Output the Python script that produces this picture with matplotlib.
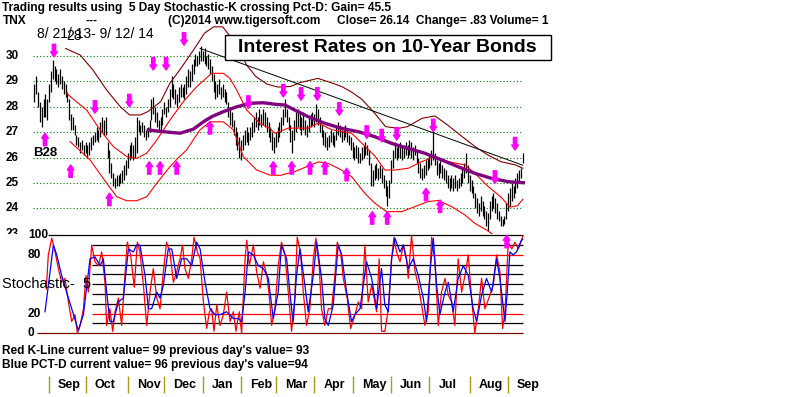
import matplotlib
matplotlib.use("Agg")
import matplotlib.pyplot as plt
from matplotlib.patches import Rectangle

plt.rcParams['font.family'] = ['Liberation Sans', 'DejaVu Sans']

# daily bars, trading day 0 = 8/21/13, last = 9/12/14
highs = [28.9, 29.2, 28.6, 28.2, 28.0, 28.3, 28.5, 28.3, 28.9, 29.4,
         29.85, 29.6, 29.5, 29.3, 29.5, 29.2, 29.0, 28.9, 28.6, 28.3,
         27.7, 27.6, 27.3, 26.9, 26.8, 26.6, 26.7, 26.5, 26.6, 26.5,
         26.6, 26.8, 26.9, 27.0, 27.2, 27.1, 27.4, 27.6, 27.5, 27.6,
         26.6, 26.3, 25.8, 25.4, 25.2, 25.3, 25.3, 25.4, 25.5, 25.7,
         25.9, 26.2, 26.5, 26.6, 26.5, 26.8, 27.6, 27.5, 27.3, 27.4,
         27.3, 27.1, 27.2, 27.5, 28.3, 28.4, 28.0, 27.8, 27.5, 27.6,
         27.9, 28.2, 28.0, 28.3, 28.7, 29.2, 28.9, 28.7, 28.5, 28.8,
         28.9, 28.8, 28.9, 29.2, 29.5, 29.4, 29.7, 29.9, 30.1, 30.0,
         30.2, 30.4, 30.2, 30.3, 30.0, 30.1, 29.9, 29.6, 29.3, 29.0,
         28.9, 29.1, 28.8, 28.9, 28.7, 28.6, 28.2, 27.9, 27.8, 27.5,
         27.2, 27.0, 26.8, 26.7, 26.9, 27.1, 27.2, 27.0, 27.2, 27.4,
         27.6, 27.8, 27.6, 27.9, 27.7, 27.9, 27.8, 27.6, 27.4, 27.2,
         27.0, 26.8, 27.0, 27.2, 27.4, 27.6, 27.9, 28.3, 27.9, 27.6,
         27.3, 27.1, 27.5, 27.8, 27.9, 27.7, 27.6, 27.8, 27.5, 27.3,
         27.6, 27.7, 27.8, 27.7, 28.1, 27.9, 27.6, 27.3, 27.1, 27.0,
         26.8, 26.9, 27.1, 27.0, 26.9, 27.2, 27.4, 27.3, 27.1, 27.2,
         27.3, 27.1, 26.9, 26.8, 26.6, 26.4, 26.5, 26.4, 26.2, 26.4,
         26.5, 26.6, 26.5, 26.3, 25.8, 25.5, 25.7, 25.8, 25.6, 25.7,
         25.6, 25.3, 25.1, 24.9, 25.1, 25.9, 26.3, 26.6, 26.4, 26.5,
         26.6, 26.4, 26.5, 26.6, 26.5, 26.7, 26.6, 26.4, 26.5, 26.3,
         26.0, 25.8, 25.6, 25.7, 25.9, 26.0, 26.1, 26.3, 27.0, 26.2,
         25.9, 25.8, 26.0, 25.7, 25.6, 25.5, 25.3, 25.2, 25.3, 25.2,
         25.3, 25.1, 25.2, 25.4, 25.6, 25.8, 26.2, 25.7, 25.3, 25.1,
         24.9, 24.6, 24.4, 24.2, 24.5, 24.3, 24.1, 23.9, 23.8, 24.3,
         24.5, 24.6, 24.4, 24.2, 23.9, 23.7, 23.6, 23.7, 24.2, 24.6,
         24.8, 25.0, 24.9, 25.2, 25.4, 25.5, 25.6, 26.2]
lows = [28.2, 28.5, 28.0, 27.4, 27.2, 27.6, 27.6, 27.5, 28.2, 28.6,
        29.1, 29.0, 28.9, 28.8, 28.9, 28.7, 28.5, 28.4, 28.2, 27.5,
        27.1, 27.1, 26.9, 26.5, 26.4, 26.2, 26.3, 26.1, 26.2, 26.0,
        26.1, 26.3, 26.5, 26.6, 26.7, 26.6, 26.8, 27.0, 26.9, 26.9,
        26.0, 25.4, 25.2, 24.9, 24.8, 24.9, 24.9, 25.0, 25.0, 25.1,
        25.3, 25.6, 25.9, 26.0, 25.9, 26.0, 26.2, 27.0, 26.9, 27.0,
        26.8, 26.7, 26.8, 27.0, 27.5, 27.7, 27.4, 27.2, 27.0, 27.1,
        27.3, 27.7, 27.6, 27.8, 28.0, 28.4, 28.3, 28.1, 28.0, 28.2,
        28.4, 28.4, 28.3, 28.5, 28.8, 28.8, 29.0, 29.3, 29.6, 29.6,
        29.7, 29.8, 29.8, 29.7, 29.6, 29.5, 29.3, 29.0, 28.6, 28.3,
        28.4, 28.5, 28.3, 28.4, 28.2, 28.1, 27.6, 27.3, 27.2, 26.9,
        26.5, 26.3, 26.0, 25.9, 26.3, 26.5, 26.6, 26.5, 26.7, 26.8,
        27.0, 27.2, 27.1, 27.3, 27.2, 27.3, 27.2, 27.0, 26.8, 26.6,
        26.3, 26.2, 26.4, 26.6, 26.8, 27.0, 27.3, 27.6, 27.4, 27.1,
        26.6, 26.2, 26.7, 27.0, 27.2, 27.1, 26.9, 27.1, 26.9, 26.8,
        27.0, 27.2, 27.3, 27.2, 27.4, 27.3, 27.0, 26.8, 26.5, 26.4,
        26.3, 26.4, 26.6, 26.5, 26.4, 26.7, 26.9, 26.8, 26.6, 26.7,
        26.8, 26.6, 26.5, 26.3, 26.0, 25.9, 26.0, 25.8, 25.8, 25.9,
        26.0, 26.1, 26.1, 25.7, 24.9, 24.9, 25.1, 25.2, 25.1, 25.2,
        25.0, 24.8, 24.5, 24.1, 24.4, 25.0, 25.6, 26.0, 25.9, 26.0,
        26.0, 25.9, 26.0, 26.1, 26.0, 26.1, 26.0, 25.9, 26.1, 25.8,
        25.4, 25.2, 25.1, 25.2, 25.3, 25.5, 25.6, 25.7, 25.9, 25.7,
        25.3, 25.2, 25.4, 25.2, 25.1, 25.0, 24.8, 24.7, 24.8, 24.7,
        24.8, 24.7, 24.8, 24.9, 25.0, 25.2, 25.4, 25.0, 24.7, 24.6,
        24.4, 24.0, 23.8, 23.7, 23.9, 23.7, 23.6, 23.3, 23.1, 23.6,
        23.9, 24.0, 23.8, 23.6, 23.5, 23.3, 23.3, 23.4, 23.6, 23.9,
        24.1, 24.3, 24.4, 24.6, 24.8, 25.0, 25.2, 25.8]

month_days = [8, 28, 51, 71, 92, 113, 132, 153, 174, 195, 216, 238, 259]
month_names = ["Sep", "Oct", "Nov", "Dec", "Jan", "Feb", "Mar", "Apr",
               "May", "Jun", "Jul", "Aug", "Sep"]
price_levels = [30, 29, 28, 27, 26, 25, 24]

# bands / moving average
outer_days = [17, 25, 32, 39.5, 47, 52, 58, 62, 69, 74, 80, 87, 93, 98, 103,
              110, 116, 121, 127, 133, 140, 145, 155, 163, 168, 173, 179, 186,
              192, 199, 204, 212, 219, 226, 234, 241, 248, 255, 263, 267]
outer_vals = [30.3, 30.04, 29.45, 28.66, 28.0, 27.68, 27.68, 27.81, 28.2, 28.92,
              29.51, 30.24, 30.9, 31.15, 31.15, 30.5, 29.65, 29.2, 28.9, 28.78,
              28.8, 28.95, 29.12, 28.93, 28.8, 28.6, 28.3, 27.75, 27.22, 27.15,
              27.22, 27.55, 27.64, 27.28, 26.82, 26.43, 26.1, 25.84, 25.71, 25.58]
upper_days = [17.6, 23, 28.6, 35.9, 43.2, 50.5, 55.9, 61.4, 66.9, 74.1, 81.4,
              88.7, 96.9, 103.3, 106.9, 110.6, 116.1, 123.3, 128.8, 131.5,
              138.8, 149.7, 155.2, 162.5, 173.4, 179, 186.2, 191.6, 197.1,
              204.4, 211.7, 219, 226.3, 235.4, 240.8, 248.1, 255, 260, 264, 267]
upper_vals = [28.53, 28.2, 27.87, 27.09, 26.43, 26.04, 25.97, 26.17, 26.69,
              27.48, 28.2, 28.79, 29.32, 29.32, 29.12, 28.66, 27.87, 27.35,
              27.15, 26.96, 27.16, 27.16, 27.36, 27.1, 26.96, 26.57, 26.06,
              25.51, 25.51, 25.58, 25.84, 26.04, 25.84, 25.71, 25.38, 24.86,
              24.45, 24.05, 24.1, 24.35]
lower_days = [19.5, 30.4, 39.5, 45, 50.5, 56, 61.4, 66.9, 74.1, 78.5, 83.2,
              90.5, 96, 103.3, 108.8, 114.2, 121.5, 128.8, 134.3, 142.4, 155.2,
              160.7, 167.9, 173.4, 180.7, 186.2, 192.6, 200.8, 208.1, 215.3,
              220.8, 228.1, 235.4, 240.8, 247.2, 255, 262, 267]
lower_vals = [26.63, 25.91, 24.99, 24.46, 24.3, 24.3, 24.46, 24.99, 25.64,
              25.98, 26.3, 27.09, 27.41, 27.41, 27.09, 26.04, 25.51, 25.31,
              25.3, 25.45, 25.83, 25.77, 25.51, 25.25, 24.59, 24.2, 23.87,
              23.87, 24.07, 24.27, 24.31, 24.07, 23.74, 23.41, 23.15, 22.75,
              22.6, 22.6]
ma_days = [62.3, 70.5, 79.6, 86.9, 92.4, 96.9, 103.3, 110.6, 117.9, 125.2,
           131.5, 137, 142.4, 149.7, 158.8, 168, 177.1, 186.2, 195.3, 204.4,
           213.5, 222.6, 231.7, 240.8, 250, 259.1, 267.3]
ma_vals = [27.09, 27.02, 26.96, 27.12, 27.41, 27.61, 27.81, 28.0, 28.14,
           28.16, 28.1, 28.07, 27.87, 27.61, 27.35, 27.15, 27.02, 26.82, 26.56,
           26.36, 26.17, 25.91, 25.64, 25.38, 25.18, 25.05, 25.01]
trend_days = [90.6, 267]
trend_vals = [30.3, 25.7]

# signal arrows (tip positions)
down_days = [10.7, 33.1, 51.9, 65, 72, 81.8, 117, 136.1, 145.8, 154.7, 166.7,
             181.7, 189.9, 198.1, 218.1, 251.8, 262.8]
down_tips = [29.97, 27.75, 28.0, 29.45, 29.45, 30.43, 27.94, 28.39, 28.26,
             28.26, 27.67, 26.76, 26.62, 26.69, 27.02, 24.99, 26.3]
up_days = [5.8, 19.8, 41, 62.8, 68.7, 77.8, 96, 130.6, 140.7, 150.7, 158.9,
           170.7, 184.7, 192.9, 214.1, 221.8]
up_tips = [26.96, 25.71, 24.6, 25.84, 25.84, 25.84, 27.42, 25.84, 25.84,
           25.84, 25.84, 25.58, 23.87, 23.87, 24.79, 24.33]

# 5 day stochastic
k_days = [6.5, 7.6, 9.5, 11.3, 13.1, 14.9, 16.7, 18.6, 20.4, 22.2, 23.5, 25,
          26.8, 28.2, 29.5, 31.3, 33.1, 35, 36.8, 38.6, 39.5, 41.3, 42.8, 44.1,
          45.9, 47.7, 49.5, 50.8, 52.6, 54.6, 56.3, 57.7, 59.6, 61.4, 63.2, 65,
          66.9, 68.7, 70.5, 72.3, 74.1, 76, 77.8, 79.6, 81, 82.3, 84.2, 86,
          87.3, 89.1, 90.6, 92.4, 94.2, 95.7, 96.9, 98.2, 99.7, 101.5, 103.3,
          105.1, 107, 108.8, 110.2, 112, 113.3, 115.2, 116.1, 117.5, 119.7,
          121.5, 123.4, 125.2, 127, 128.3, 129.7, 131.5, 133.3, 135.1, 137,
          138.8, 140.6, 142.4, 143.7, 145.5, 147, 148.8, 150.6, 152.5, 153.9,
          155.7, 157, 158.8, 160.7, 162.5, 164.3, 165.6, 167.4, 168.9, 171,
          172.9, 174.7, 177.1, 178.9, 180.7, 182.5, 184.4, 187.1, 188.5, 189.8,
          191.6, 193.5, 195.3, 196.6, 198, 199.9, 201.7, 203.5, 204.4, 206.2,
          208.1, 209.9, 211.7, 213.5, 215.3, 217.2, 219, 220.8, 222.6, 224.5,
          226.3, 228.1, 229.9, 231.7, 233.6, 235.4, 237.2, 239, 240.8, 242.7,
          244.5, 246.3, 249.1, 250.9, 252.7, 254.5, 256, 257.3, 259.1, 261,
          262.7, 264.6, 266, 267]
k_vals = [45, 80, 97, 83, 66, 52, 56, 32, 12, 19, 0, 8, 25, 59, 42, 90, 73, 69,
          83, 52, 8, 25, 2, 22, 36, 8, 59, 93, 80, 47, 93, 83, 49, 8, 42, 66,
          36, 25, 63, 93, 83, 52, 63, 76, 90, 66, 56, 76, 98, 83, 76, 32, 5, 22,
          25, 2, 29, 8, 19, 42, 12, 22, 2, 22, 0, 76, 95, 69, 90, 63, 46, 73,
          60, 40, 8, 25, 69, 93, 80, 42, 2, 36, 98, 83, 42, 8, 25, 76, 97, 69,
          25, 8, 25, 25, 59, 93, 83, 56, 36, 5, 15, 32, 25, 90, 32, 49, 22, 76,
          2, 2, 25, 76, 98, 83, 73, 90, 76, 56, 100, 63, 49, 29, 8, 22, 98, 73,
          8, 42, 56, 39, 32, 8, 76, 42, 59, 80, 36, 0, 25, 56, 25, 39, 49, 80,
          63, 5, 22, 93, 86, 93, 86, 93, 99]
d_days = [5.8, 10.4, 12.2, 14.9, 17.6, 20.4, 24, 26.8, 30.4, 33.1, 35.9, 37.7,
          39.5, 41.3, 43.2, 45.9, 48.6, 51.4, 54.1, 55.9, 57.7, 60.5, 62.3,
          64.1, 66.9, 68.7, 70.5, 73.2, 75.1, 77.8, 80.5, 83.3, 86, 88.7, 90.6,
          93.3, 96, 98.8, 101.5, 105.1, 108.8, 111.5, 113.3, 115.2, 117, 119.7,
          122.4, 125.2, 127.9, 130.6, 133.3, 135.1, 137.9, 140.6, 141.5, 143.3,
          145.2, 147.9, 149.7, 152.5, 154.3, 157, 158.8, 160.7, 163.4, 166.1,
          168, 170.7, 173.4, 175.2, 178, 181.6, 184.4, 187.1, 189.8, 191.6,
          193.5, 195.3, 197.1, 199.9, 201.7, 204.4, 207.1, 209.9, 212.6, 214.4,
          216.6, 218.1, 219.9, 221.7, 224.5, 226.3, 229, 231.7, 234.5, 237.2,
          239.9, 241.8, 244.5, 247.2, 250, 252.7, 254.5, 257.3, 258.5, 260,
          261.8, 263.6, 266, 267]
d_vals = [22, 90, 80, 59, 42, 25, 3, 19, 76, 78, 69, 76, 42, 12, 12, 32, 36, 86,
          83, 90, 90, 59, 25, 25, 42, 36, 49, 86, 86, 56, 76, 76, 69, 93, 86,
          52, 25, 19, 19, 22, 15, 15, 12, 42, 83, 80, 69, 66, 56, 15, 42, 90,
          76, 25, 12, 59, 86, 49, 22, 59, 93, 56, 15, 8, 29, 90, 80, 42, 12, 19,
          25, 73, 56, 25, 66, 29, 22, 76, 97, 83, 90, 66, 76, 59, 36, 12, 69,
          97, 49, 19, 42, 52, 22, 56, 69, 59, 25, 12, 39, 56, 42, 76, 56, 12,
          42, 83, 80, 83, 94, 96]
stoch_black = [90, 70, 60, 50, 40, 30, 10]
stoch_red = [80, 20]

W, H = 800, 397


def box(x0, y0, x1, y1):
    return [x0 / W, 1 - y1 / H, (x1 - x0) / W, (y1 - y0) / H]


def ftext(x, y, s, **kw):
    kw.setdefault('va', 'center')
    kw.setdefault('fontweight', 'bold')
    kw.setdefault('fontsize', 8.6)
    fig.text(x / W, 1 - y / H, s, **kw)


fig = plt.figure(figsize=(8, 3.97), dpi=100)
fig.patch.set_facecolor('white')

ax = fig.add_axes(box(30, 20, 530, 234))
ax.set_xlim(-2.41, 270.97)
ax.set_ylim(22.99, 31.42)
ax.axis('off')

ax.hlines(price_levels, -0.8, 267, colors='green', linestyles=(0, (1, 2)), lw=0.8)
ax.vlines(range(len(highs)), lows, highs, colors='black', lw=0.9)
ax.plot(outer_days, outer_vals, color='#800000', lw=0.8)
ax.plot(upper_days, upper_vals, color='red', lw=0.8)
ax.plot(lower_days, lower_vals, color='red', lw=0.8)
ax.plot(trend_days, trend_vals, color='black', lw=0.7)
ax.plot(ma_days, ma_vals, color='#800080', lw=2.4)

arrow_kw = dict(arrowstyle='simple,head_length=0.6,head_width=0.8,tail_width=0.4',
                color='#ff00ff', shrinkA=0, shrinkB=0, mutation_scale=6)
for d, p in zip(down_days, down_tips):
    ax.annotate('', xy=(d, p), xytext=(0, 9), textcoords='offset points',
                arrowprops=arrow_kw)
for d, p in zip(up_days, up_tips):
    ax.annotate('', xy=(d, p), xytext=(0, -9), textcoords='offset points',
                arrowprops=arrow_kw)

ytr = ax.get_yaxis_transform()
for lv in price_levels + [23]:
    ax.text(-0.035, lv, str(lv), transform=ytr, ha='center', va='center',
            fontsize=8.5, fontweight='bold', clip_on=False)

# stochastic panel (white background hides the bottom half of "23")
ax2 = fig.add_axes(box(0, 234, 530, 337))
ax2.set_zorder(1)
ax2.set_xlim(-18.81, 270.97)
ax2.set_ylim(-3.8, 101.3)
ax2.patch.set_facecolor('white')
for s in ax2.spines.values():
    s.set_visible(False)
ax2.set_xticks([])
ax2.set_yticks([])
ax2.hlines(stoch_black, 31.5, 267, colors='black', lw=0.9)
ax2.hlines(stoch_red, 31.5, 267, colors='red', lw=0.9)
ax2.hlines(100, 7.4, 267, colors='black', lw=0.9)
ax2.hlines(0, 1.4, 267, colors='#800000', lw=0.9)
ax2.plot(k_days, k_vals, color='red', lw=0.9)
ax2.plot(d_days, d_vals, color='blue', lw=0.9)
ax2.annotate('', xy=(258.2, 100), xytext=(0, -9), textcoords='offset points',
             arrowprops=arrow_kw)

for lv, lab in [(100, "100"), (80, "80"), (20, "20"), (0, "0")]:
    ax2.text(-3.6, lv, lab, ha='left', va='center', fontsize=8.6,
             fontweight='bold')

# month axis
xtr = ax2.get_xaxis_transform()
ax2.vlines(month_days, -0.544, -0.379, transform=xtr, colors='#a89c14',
           lw=1.0, clip_on=False)
for d, m in zip(month_days, month_names):
    ax2.annotate(m, xy=(d, -0.466), xycoords=xtr, xytext=(6.5, 0),
                 textcoords='offset points', ha='left', va='center',
                 fontsize=9, fontweight='bold', annotation_clip=False)

# header texts
ftext(2, 8, "Trading results using  5 Day Stochastic-K crossing Pct-D: Gain= 45.5")
ftext(3, 21, "TNX")
ftext(86, 21, "---")
ftext(168, 21, "(C)2014 www.tigersoft.com")
ftext(337, 21, "Close= 26.14  Change= .83 Volume= 1")
ftext(37, 34, "8/ 21/ 13- 9/ 12/ 14", fontweight='normal', fontsize=10)
ftext(66, 36, "28", fontweight='normal', fontsize=10)
ftext(33, 153, "B28", fontsize=9.5)
ftext(2, 284, "Stochastic-  5", fontweight='normal', fontsize=10.5)
ftext(2, 351, "Red K-Line current value= 99 previous day's value= 93")
ftext(2, 365, "Blue PCT-D current value= 96 previous day's value=94")

fig.patches.append(Rectangle((225 / W, 1 - 60 / H), 326 / W, 25 / H,
                             transform=fig.transFigure, facecolor='white',
                             edgecolor='black', lw=1, zorder=2))
fig.text(387 / W, 1 - 47.5 / H, "Interest Rates on 10-Year Bonds",
         ha='center', va='center', fontsize=14, fontweight='bold', zorder=3)

fig.savefig("out.png", dpi=100, facecolor='white')
